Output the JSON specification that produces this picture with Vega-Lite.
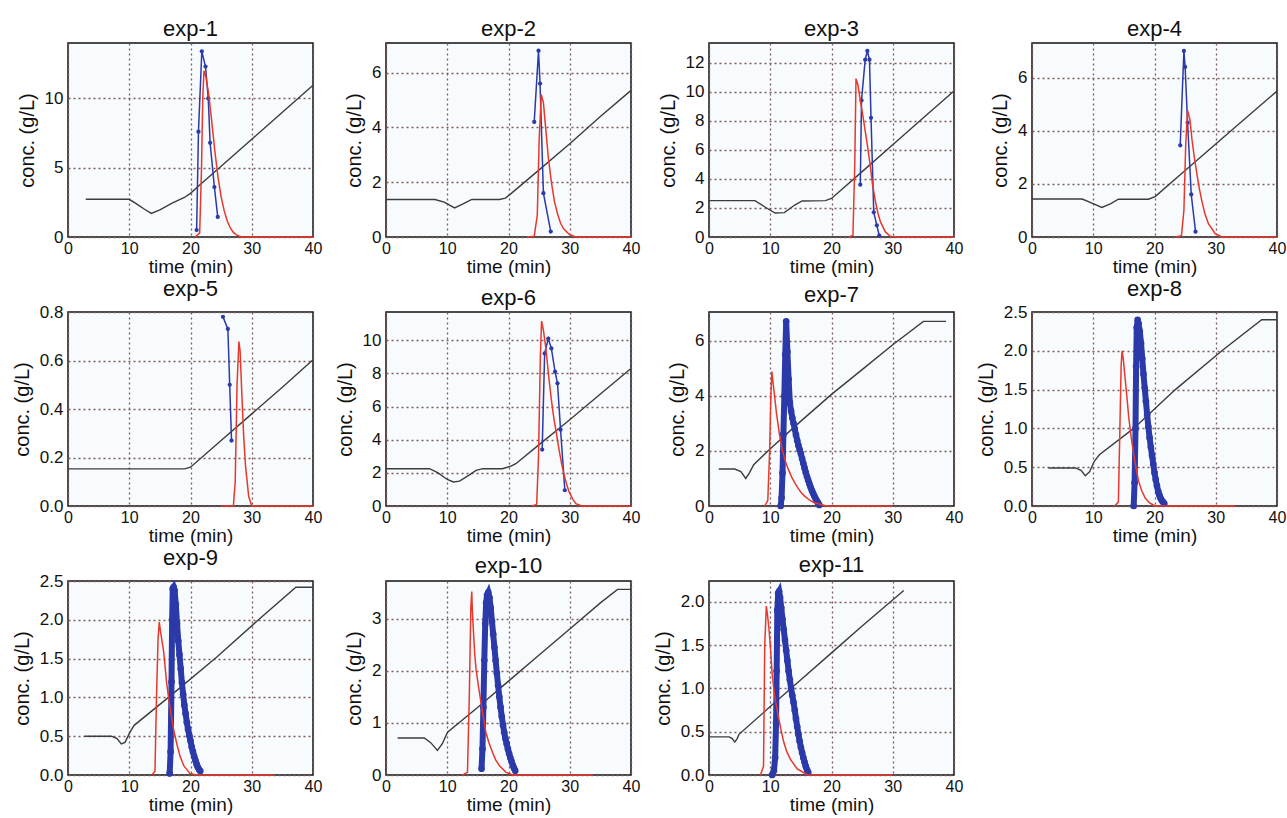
{
"$schema": "https://vega.github.io/schema/vega-lite/v6.json",
"background": "white",
"padding": {"left": 11, "top": 17, "right": 0, "bottom": 0},
"columns": 4,
"spacing": {"row": 0, "column": 11},
"datasets": {"d": [
{"e":1,"s":"g","t":2.9,"c":2.72},{"e":1,"s":"g","t":10,"c":2.72},{"e":1,"s":"g","t":11,"c":2.45},{"e":1,"s":"g","t":12.5,"c":2.0},{"e":1,"s":"g","t":13.6,"c":1.7},{"e":1,"s":"g","t":15,"c":1.95},{"e":1,"s":"g","t":17,"c":2.45},{"e":1,"s":"g","t":19,"c":2.85},{"e":1,"s":"g","t":20,"c":3.15},{"e":1,"s":"g","t":21.5,"c":3.75},{"e":1,"s":"g","t":25,"c":5.1},{"e":1,"s":"g","t":30,"c":7.05},{"e":1,"s":"g","t":35,"c":9.0},{"e":1,"s":"g","t":40,"c":10.95},
{"e":1,"s":"s","t":20.8,"c":0},{"e":1,"s":"s","t":21.5,"c":0.3},{"e":1,"s":"s","t":21.8,"c":5},{"e":1,"s":"s","t":22.0,"c":10},{"e":1,"s":"s","t":22.2,"c":12.0},{"e":1,"s":"s","t":22.5,"c":11.6},{"e":1,"s":"s","t":23,"c":10.2},{"e":1,"s":"s","t":23.5,"c":8.2},{"e":1,"s":"s","t":24,"c":6.1},{"e":1,"s":"s","t":24.5,"c":4.3},{"e":1,"s":"s","t":25,"c":2.9},{"e":1,"s":"s","t":25.5,"c":1.9},{"e":1,"s":"s","t":26,"c":1.15},{"e":1,"s":"s","t":26.5,"c":0.65},{"e":1,"s":"s","t":27,"c":0.33},{"e":1,"s":"s","t":27.5,"c":0.15},{"e":1,"s":"s","t":28,"c":0.05},{"e":1,"s":"s","t":28.6,"c":0},{"e":1,"s":"s","t":40,"c":0},
{"e":1,"s":"m","t":21.0,"c":0.5},{"e":1,"s":"m","t":21.3,"c":7.6},{"e":1,"s":"m","t":21.85,"c":13.4},{"e":1,"s":"m","t":22.45,"c":12.3},{"e":1,"s":"m","t":22.9,"c":10.0},{"e":1,"s":"m","t":23.2,"c":6.8},{"e":1,"s":"m","t":23.9,"c":3.6},{"e":1,"s":"m","t":24.45,"c":1.45},
{"e":2,"s":"g","t":0,"c":1.37},{"e":2,"s":"g","t":8,"c":1.37},{"e":2,"s":"g","t":9.5,"c":1.27},{"e":2,"s":"g","t":11.2,"c":1.06},{"e":2,"s":"g","t":12.5,"c":1.2},{"e":2,"s":"g","t":14,"c":1.37},{"e":2,"s":"g","t":18.5,"c":1.37},{"e":2,"s":"g","t":19.5,"c":1.42},{"e":2,"s":"g","t":20.5,"c":1.6},{"e":2,"s":"g","t":25,"c":2.45},{"e":2,"s":"g","t":30,"c":3.4},{"e":2,"s":"g","t":35,"c":4.4},{"e":2,"s":"g","t":40,"c":5.35},
{"e":2,"s":"s","t":23,"c":0},{"e":2,"s":"s","t":24.2,"c":0.03},{"e":2,"s":"s","t":24.7,"c":0.8},{"e":2,"s":"s","t":25.0,"c":3.5},{"e":2,"s":"s","t":25.35,"c":5.2},{"e":2,"s":"s","t":25.7,"c":4.9},{"e":2,"s":"s","t":26.1,"c":3.9},{"e":2,"s":"s","t":26.5,"c":2.9},{"e":2,"s":"s","t":27,"c":2.0},{"e":2,"s":"s","t":27.5,"c":1.3},{"e":2,"s":"s","t":28,"c":0.85},{"e":2,"s":"s","t":28.5,"c":0.5},{"e":2,"s":"s","t":29,"c":0.3},{"e":2,"s":"s","t":30,"c":0.08},{"e":2,"s":"s","t":31,"c":0},{"e":2,"s":"s","t":40,"c":0},
{"e":2,"s":"m","t":24.2,"c":4.2},{"e":2,"s":"m","t":24.9,"c":6.8},{"e":2,"s":"m","t":25.15,"c":5.6},{"e":2,"s":"m","t":25.7,"c":1.6},{"e":2,"s":"m","t":26.9,"c":0.2},
{"e":3,"s":"g","t":0,"c":2.5},{"e":3,"s":"g","t":7.5,"c":2.5},{"e":3,"s":"g","t":9,"c":2.1},{"e":3,"s":"g","t":10.8,"c":1.65},{"e":3,"s":"g","t":12.3,"c":1.68},{"e":3,"s":"g","t":14,"c":2.2},{"e":3,"s":"g","t":15.2,"c":2.48},{"e":3,"s":"g","t":19,"c":2.5},{"e":3,"s":"g","t":20,"c":2.65},{"e":3,"s":"g","t":25,"c":4.5},{"e":3,"s":"g","t":30,"c":6.35},{"e":3,"s":"g","t":35,"c":8.2},{"e":3,"s":"g","t":40,"c":10.05},
{"e":3,"s":"s","t":22.8,"c":0},{"e":3,"s":"s","t":23.5,"c":0.1},{"e":3,"s":"s","t":23.8,"c":5},{"e":3,"s":"s","t":24.0,"c":10.9},{"e":3,"s":"s","t":24.3,"c":10.5},{"e":3,"s":"s","t":24.7,"c":9.4},{"e":3,"s":"s","t":25.1,"c":8.4},{"e":3,"s":"s","t":25.5,"c":7.3},{"e":3,"s":"s","t":25.9,"c":6.2},{"e":3,"s":"s","t":26.3,"c":5.0},{"e":3,"s":"s","t":26.7,"c":3.6},{"e":3,"s":"s","t":27.2,"c":2.4},{"e":3,"s":"s","t":27.6,"c":1.6},{"e":3,"s":"s","t":28,"c":1.04},{"e":3,"s":"s","t":28.8,"c":0.35},{"e":3,"s":"s","t":29.6,"c":0.05},{"e":3,"s":"s","t":31,"c":0},{"e":3,"s":"s","t":40,"c":0},
{"e":3,"s":"m","t":24.7,"c":3.6},{"e":3,"s":"m","t":24.9,"c":9.4},{"e":3,"s":"m","t":25.5,"c":12.2},{"e":3,"s":"m","t":25.85,"c":12.8},{"e":3,"s":"m","t":26.2,"c":12.2},{"e":3,"s":"m","t":26.45,"c":8.2},{"e":3,"s":"m","t":26.9,"c":1.7},{"e":3,"s":"m","t":27.4,"c":0.8},{"e":3,"s":"m","t":27.8,"c":0.1},
{"e":4,"s":"g","t":0,"c":1.43},{"e":4,"s":"g","t":8.2,"c":1.43},{"e":4,"s":"g","t":9.5,"c":1.3},{"e":4,"s":"g","t":11.4,"c":1.11},{"e":4,"s":"g","t":12.8,"c":1.25},{"e":4,"s":"g","t":14.1,"c":1.42},{"e":4,"s":"g","t":19,"c":1.42},{"e":4,"s":"g","t":20.1,"c":1.52},{"e":4,"s":"g","t":25,"c":2.5},{"e":4,"s":"g","t":30,"c":3.5},{"e":4,"s":"g","t":35,"c":4.5},{"e":4,"s":"g","t":40,"c":5.49},
{"e":4,"s":"s","t":23.4,"c":0},{"e":4,"s":"s","t":24.4,"c":0.05},{"e":4,"s":"s","t":24.8,"c":1},{"e":4,"s":"s","t":25.1,"c":3.5},{"e":4,"s":"s","t":25.4,"c":4.76},{"e":4,"s":"s","t":25.8,"c":4.4},{"e":4,"s":"s","t":26.1,"c":3.7},{"e":4,"s":"s","t":26.5,"c":3.0},{"e":4,"s":"s","t":26.9,"c":2.4},{"e":4,"s":"s","t":27.3,"c":1.85},{"e":4,"s":"s","t":27.7,"c":1.39},{"e":4,"s":"s","t":28.2,"c":0.9},{"e":4,"s":"s","t":28.8,"c":0.5},{"e":4,"s":"s","t":29.9,"c":0.13},{"e":4,"s":"s","t":31,"c":0},{"e":4,"s":"s","t":40,"c":0},
{"e":4,"s":"m","t":24.2,"c":3.45},{"e":4,"s":"m","t":24.8,"c":7.0},{"e":4,"s":"m","t":25.0,"c":6.4},{"e":4,"s":"m","t":25.4,"c":4.3},{"e":4,"s":"m","t":26.0,"c":1.6},{"e":4,"s":"m","t":26.7,"c":0.2},
{"e":5,"s":"g","t":0,"c":0.153},{"e":5,"s":"g","t":19,"c":0.153},{"e":5,"s":"g","t":20,"c":0.16},{"e":5,"s":"g","t":25,"c":0.27},{"e":5,"s":"g","t":30,"c":0.38},{"e":5,"s":"g","t":35,"c":0.49},{"e":5,"s":"g","t":40,"c":0.603},
{"e":5,"s":"s","t":25,"c":0},{"e":5,"s":"s","t":27.0,"c":0},{"e":5,"s":"s","t":27.3,"c":0.1},{"e":5,"s":"s","t":27.6,"c":0.5},{"e":5,"s":"s","t":27.9,"c":0.678},{"e":5,"s":"s","t":28.1,"c":0.64},{"e":5,"s":"s","t":28.4,"c":0.45},{"e":5,"s":"s","t":28.7,"c":0.28},{"e":5,"s":"s","t":29,"c":0.16},{"e":5,"s":"s","t":29.5,"c":0.04},{"e":5,"s":"s","t":30,"c":0},{"e":5,"s":"s","t":40,"c":0},
{"e":5,"s":"m","t":25.3,"c":0.78},{"e":5,"s":"m","t":26.1,"c":0.73},{"e":5,"s":"m","t":26.4,"c":0.5},{"e":5,"s":"m","t":26.7,"c":0.27},
{"e":6,"s":"g","t":0,"c":2.25},{"e":6,"s":"g","t":7.1,"c":2.25},{"e":6,"s":"g","t":8.5,"c":2.0},{"e":6,"s":"g","t":10,"c":1.6},{"e":6,"s":"g","t":11,"c":1.45},{"e":6,"s":"g","t":12,"c":1.5},{"e":6,"s":"g","t":13.5,"c":1.85},{"e":6,"s":"g","t":14.7,"c":2.15},{"e":6,"s":"g","t":15.8,"c":2.25},{"e":6,"s":"g","t":19,"c":2.25},{"e":6,"s":"g","t":20.4,"c":2.4},{"e":6,"s":"g","t":21.2,"c":2.55},{"e":6,"s":"g","t":25,"c":3.7},{"e":6,"s":"g","t":30,"c":5.2},{"e":6,"s":"g","t":35,"c":6.75},{"e":6,"s":"g","t":40,"c":8.29},
{"e":6,"s":"s","t":23.9,"c":0},{"e":6,"s":"s","t":24.6,"c":0.1},{"e":6,"s":"s","t":24.9,"c":3},{"e":6,"s":"s","t":25.2,"c":9},{"e":6,"s":"s","t":25.4,"c":11.15},{"e":6,"s":"s","t":25.7,"c":10.6},{"e":6,"s":"s","t":26.1,"c":9.5},{"e":6,"s":"s","t":26.6,"c":7.7},{"e":6,"s":"s","t":27,"c":6.4},{"e":6,"s":"s","t":27.4,"c":5.3},{"e":6,"s":"s","t":27.9,"c":4.2},{"e":6,"s":"s","t":28.3,"c":3.3},{"e":6,"s":"s","t":28.7,"c":2.5},{"e":6,"s":"s","t":29.1,"c":1.85},{"e":6,"s":"s","t":29.5,"c":1.3},{"e":6,"s":"s","t":29.9,"c":0.85},{"e":6,"s":"s","t":30.5,"c":0.4},{"e":6,"s":"s","t":31,"c":0.14},{"e":6,"s":"s","t":32,"c":0},{"e":6,"s":"s","t":40,"c":0},
{"e":6,"s":"m","t":25.5,"c":3.4},{"e":6,"s":"m","t":25.9,"c":9.2},{"e":6,"s":"m","t":26.5,"c":10.1},{"e":6,"s":"m","t":27.0,"c":9.5},{"e":6,"s":"m","t":27.6,"c":8.1},{"e":6,"s":"m","t":28.0,"c":7.4},{"e":6,"s":"m","t":28.5,"c":4.6},{"e":6,"s":"m","t":29.2,"c":0.95},
{"e":7,"s":"g","t":1.6,"c":1.34},{"e":7,"s":"g","t":4.2,"c":1.34},{"e":7,"s":"g","t":5.2,"c":1.25},{"e":7,"s":"g","t":6.0,"c":1.0},{"e":7,"s":"g","t":6.6,"c":1.2},{"e":7,"s":"g","t":7.3,"c":1.5},{"e":7,"s":"g","t":10,"c":2.08},{"e":7,"s":"g","t":15,"c":3.08},{"e":7,"s":"g","t":20,"c":4.05},{"e":7,"s":"g","t":25,"c":4.95},{"e":7,"s":"g","t":30,"c":5.85},{"e":7,"s":"g","t":35,"c":6.7},{"e":7,"s":"g","t":38.7,"c":6.7},
{"e":7,"s":"s","t":9.1,"c":0},{"e":7,"s":"s","t":9.6,"c":0.2},{"e":7,"s":"s","t":9.9,"c":2},{"e":7,"s":"s","t":10.1,"c":4},{"e":7,"s":"s","t":10.27,"c":4.88},{"e":7,"s":"s","t":10.45,"c":4.5},{"e":7,"s":"s","t":10.65,"c":4.1},{"e":7,"s":"s","t":11.0,"c":3.4},{"e":7,"s":"s","t":11.5,"c":2.6},{"e":7,"s":"s","t":12,"c":2.0},{"e":7,"s":"s","t":12.5,"c":1.6},{"e":7,"s":"s","t":13,"c":1.3},{"e":7,"s":"s","t":13.5,"c":1.05},{"e":7,"s":"s","t":14,"c":0.85},{"e":7,"s":"s","t":14.5,"c":0.66},{"e":7,"s":"s","t":15,"c":0.5},{"e":7,"s":"s","t":15.6,"c":0.36},{"e":7,"s":"s","t":16.5,"c":0.2},{"e":7,"s":"s","t":17.2,"c":0.12},{"e":7,"s":"s","t":18.9,"c":0.02},{"e":7,"s":"s","t":20,"c":0},{"e":7,"s":"s","t":30,"c":0},
{"e":7,"s":"m","t":11.7,"c":0},{"e":7,"s":"m","t":11.85,"c":0.3},{"e":7,"s":"m","t":12.0,"c":1.2},{"e":7,"s":"m","t":12.15,"c":2.6},{"e":7,"s":"m","t":12.3,"c":4.0},{"e":7,"s":"m","t":12.45,"c":5.5},{"e":7,"s":"m","t":12.6,"c":6.7},{"e":7,"s":"m","t":12.8,"c":5.6},{"e":7,"s":"m","t":13.0,"c":4.6},{"e":7,"s":"m","t":13.2,"c":3.75},{"e":7,"s":"m","t":13.4,"c":3.45},{"e":7,"s":"m","t":13.6,"c":3.2},{"e":7,"s":"m","t":13.8,"c":3.0},{"e":7,"s":"m","t":14.0,"c":2.8},{"e":7,"s":"m","t":14.2,"c":2.58},{"e":7,"s":"m","t":14.4,"c":2.38},{"e":7,"s":"m","t":14.6,"c":2.2},{"e":7,"s":"m","t":14.8,"c":2.05},{"e":7,"s":"m","t":15.0,"c":1.9},{"e":7,"s":"m","t":15.2,"c":1.72},{"e":7,"s":"m","t":15.4,"c":1.55},{"e":7,"s":"m","t":15.6,"c":1.38},{"e":7,"s":"m","t":15.8,"c":1.22},{"e":7,"s":"m","t":16.0,"c":1.07},{"e":7,"s":"m","t":16.2,"c":0.93},{"e":7,"s":"m","t":16.4,"c":0.8},{"e":7,"s":"m","t":16.6,"c":0.68},{"e":7,"s":"m","t":16.8,"c":0.56},{"e":7,"s":"m","t":17.0,"c":0.46},{"e":7,"s":"m","t":17.2,"c":0.36},{"e":7,"s":"m","t":17.4,"c":0.27},{"e":7,"s":"m","t":17.6,"c":0.19},{"e":7,"s":"m","t":17.8,"c":0.11},{"e":7,"s":"m","t":18.0,"c":0.04},
{"e":8,"s":"g","t":2.7,"c":0.49},{"e":8,"s":"g","t":7.1,"c":0.49},{"e":8,"s":"g","t":8.0,"c":0.46},{"e":8,"s":"g","t":8.7,"c":0.39},{"e":8,"s":"g","t":9.4,"c":0.44},{"e":8,"s":"g","t":10.2,"c":0.58},{"e":8,"s":"g","t":11,"c":0.66},{"e":8,"s":"g","t":16.6,"c":1.0},{"e":8,"s":"g","t":23.4,"c":1.5},{"e":8,"s":"g","t":31,"c":2.0},{"e":8,"s":"g","t":37.5,"c":2.4},{"e":8,"s":"g","t":40,"c":2.4},
{"e":8,"s":"s","t":13.5,"c":0},{"e":8,"s":"s","t":14.1,"c":0.05},{"e":8,"s":"s","t":14.35,"c":1},{"e":8,"s":"s","t":14.55,"c":1.8},{"e":8,"s":"s","t":14.7,"c":2.0},{"e":8,"s":"s","t":14.9,"c":1.9},{"e":8,"s":"s","t":15.2,"c":1.65},{"e":8,"s":"s","t":15.5,"c":1.4},{"e":8,"s":"s","t":15.8,"c":1.14},{"e":8,"s":"s","t":16.2,"c":0.88},{"e":8,"s":"s","t":16.6,"c":0.67},{"e":8,"s":"s","t":17.0,"c":0.48},{"e":8,"s":"s","t":17.4,"c":0.32},{"e":8,"s":"s","t":17.9,"c":0.2},{"e":8,"s":"s","t":18.5,"c":0.1},{"e":8,"s":"s","t":19.2,"c":0.04},{"e":8,"s":"s","t":20.1,"c":0},{"e":8,"s":"s","t":33.2,"c":0},
{"e":8,"s":"m","t":16.6,"c":0},{"e":8,"s":"m","t":16.75,"c":0.3},{"e":8,"s":"m","t":16.9,"c":1.0},{"e":8,"s":"m","t":17.0,"c":1.8},{"e":8,"s":"m","t":17.1,"c":2.3},{"e":8,"s":"m","t":17.25,"c":2.4},{"e":8,"s":"m","t":17.4,"c":2.35},{"e":8,"s":"m","t":17.6,"c":2.25},{"e":8,"s":"m","t":17.8,"c":2.1},{"e":8,"s":"m","t":18.0,"c":1.9},{"e":8,"s":"m","t":18.2,"c":1.7},{"e":8,"s":"m","t":18.4,"c":1.52},{"e":8,"s":"m","t":18.6,"c":1.35},{"e":8,"s":"m","t":18.8,"c":1.18},{"e":8,"s":"m","t":19.0,"c":1.02},{"e":8,"s":"m","t":19.2,"c":0.88},{"e":8,"s":"m","t":19.4,"c":0.76},{"e":8,"s":"m","t":19.6,"c":0.65},{"e":8,"s":"m","t":19.8,"c":0.54},{"e":8,"s":"m","t":20.0,"c":0.43},{"e":8,"s":"m","t":20.2,"c":0.34},{"e":8,"s":"m","t":20.4,"c":0.26},{"e":8,"s":"m","t":20.6,"c":0.19},{"e":8,"s":"m","t":20.8,"c":0.14},{"e":8,"s":"m","t":21.0,"c":0.1},{"e":8,"s":"m","t":21.2,"c":0.07},{"e":8,"s":"m","t":21.4,"c":0.05},{"e":8,"s":"m","t":21.6,"c":0.03},
{"e":9,"s":"g","t":2.7,"c":0.5},{"e":9,"s":"g","t":7.1,"c":0.5},{"e":9,"s":"g","t":8.0,"c":0.47},{"e":9,"s":"g","t":8.7,"c":0.4},{"e":9,"s":"g","t":9.3,"c":0.42},{"e":9,"s":"g","t":10.1,"c":0.55},{"e":9,"s":"g","t":10.8,"c":0.64},{"e":9,"s":"g","t":16.7,"c":1.02},{"e":9,"s":"g","t":24.3,"c":1.52},{"e":9,"s":"g","t":31.1,"c":2.0},{"e":9,"s":"g","t":37.2,"c":2.42},{"e":9,"s":"g","t":40,"c":2.42},
{"e":9,"s":"s","t":13.7,"c":0},{"e":9,"s":"s","t":14.2,"c":0.05},{"e":9,"s":"s","t":14.45,"c":1.0},{"e":9,"s":"s","t":14.7,"c":1.75},{"e":9,"s":"s","t":14.9,"c":1.97},{"e":9,"s":"s","t":15.1,"c":1.85},{"e":9,"s":"s","t":15.4,"c":1.7},{"e":9,"s":"s","t":15.6,"c":1.6},{"e":9,"s":"s","t":15.85,"c":1.4},{"e":9,"s":"s","t":16.1,"c":1.19},{"e":9,"s":"s","t":16.5,"c":0.95},{"e":9,"s":"s","t":16.9,"c":0.75},{"e":9,"s":"s","t":17.3,"c":0.56},{"e":9,"s":"s","t":17.8,"c":0.39},{"e":9,"s":"s","t":18.3,"c":0.24},{"e":9,"s":"s","t":18.9,"c":0.12},{"e":9,"s":"s","t":19.9,"c":0.02},{"e":9,"s":"s","t":21,"c":0},{"e":9,"s":"s","t":33.6,"c":0},
{"e":9,"s":"m","t":16.6,"c":0.02},{"e":9,"s":"m","t":16.75,"c":0.3},{"e":9,"s":"m","t":16.9,"c":1.2},{"e":9,"s":"m","t":17.0,"c":2.0},{"e":9,"s":"m","t":17.1,"c":2.4},{"e":9,"s":"m","t":17.25,"c":2.42},{"e":9,"s":"m","t":17.4,"c":2.38},{"e":9,"s":"m","t":17.6,"c":2.2},{"e":9,"s":"m","t":17.8,"c":1.95},{"e":9,"s":"m","t":18.0,"c":1.73},{"e":9,"s":"m","t":18.2,"c":1.55},{"e":9,"s":"m","t":18.4,"c":1.37},{"e":9,"s":"m","t":18.6,"c":1.19},{"e":9,"s":"m","t":18.8,"c":1.04},{"e":9,"s":"m","t":19.0,"c":0.9},{"e":9,"s":"m","t":19.2,"c":0.79},{"e":9,"s":"m","t":19.4,"c":0.68},{"e":9,"s":"m","t":19.6,"c":0.59},{"e":9,"s":"m","t":19.8,"c":0.51},{"e":9,"s":"m","t":20.0,"c":0.44},{"e":9,"s":"m","t":20.2,"c":0.36},{"e":9,"s":"m","t":20.4,"c":0.3},{"e":9,"s":"m","t":20.6,"c":0.24},{"e":9,"s":"m","t":20.8,"c":0.19},{"e":9,"s":"m","t":21.0,"c":0.14},{"e":9,"s":"m","t":21.2,"c":0.1},{"e":9,"s":"m","t":21.4,"c":0.07},{"e":9,"s":"m","t":21.6,"c":0.05},
{"e":10,"s":"g","t":1.9,"c":0.71},{"e":10,"s":"g","t":6.25,"c":0.71},{"e":10,"s":"g","t":7.3,"c":0.62},{"e":10,"s":"g","t":8.4,"c":0.47},{"e":10,"s":"g","t":9.2,"c":0.6},{"e":10,"s":"g","t":10.05,"c":0.82},{"e":10,"s":"g","t":15,"c":1.3},{"e":10,"s":"g","t":20,"c":1.8},{"e":10,"s":"g","t":25,"c":2.3},{"e":10,"s":"g","t":30,"c":2.8},{"e":10,"s":"g","t":35,"c":3.3},{"e":10,"s":"g","t":37.8,"c":3.56},{"e":10,"s":"g","t":40,"c":3.56},
{"e":10,"s":"s","t":12.5,"c":0},{"e":10,"s":"s","t":13.3,"c":0.05},{"e":10,"s":"s","t":13.6,"c":1.5},{"e":10,"s":"s","t":13.85,"c":3.2},{"e":10,"s":"s","t":14.0,"c":3.52},{"e":10,"s":"s","t":14.1,"c":3.15},{"e":10,"s":"s","t":14.3,"c":2.7},{"e":10,"s":"s","t":14.5,"c":2.3},{"e":10,"s":"s","t":14.7,"c":2.03},{"e":10,"s":"s","t":15.1,"c":1.7},{"e":10,"s":"s","t":15.5,"c":1.39},{"e":10,"s":"s","t":15.9,"c":1.1},{"e":10,"s":"s","t":16.3,"c":0.82},{"e":10,"s":"s","t":16.8,"c":0.62},{"e":10,"s":"s","t":17.4,"c":0.43},{"e":10,"s":"s","t":17.9,"c":0.29},{"e":10,"s":"s","t":18.5,"c":0.18},{"e":10,"s":"s","t":19.6,"c":0.05},{"e":10,"s":"s","t":20.7,"c":0},{"e":10,"s":"s","t":33.7,"c":0},
{"e":10,"s":"m","t":15.6,"c":0.12},{"e":10,"s":"m","t":15.75,"c":0.5},{"e":10,"s":"m","t":15.9,"c":1.3},{"e":10,"s":"m","t":16.05,"c":2.2},{"e":10,"s":"m","t":16.2,"c":2.9},{"e":10,"s":"m","t":16.35,"c":3.3},{"e":10,"s":"m","t":16.5,"c":3.45},{"e":10,"s":"m","t":16.7,"c":3.5},{"e":10,"s":"m","t":16.9,"c":3.4},{"e":10,"s":"m","t":17.1,"c":3.2},{"e":10,"s":"m","t":17.3,"c":2.95},{"e":10,"s":"m","t":17.5,"c":2.7},{"e":10,"s":"m","t":17.7,"c":2.45},{"e":10,"s":"m","t":17.9,"c":2.2},{"e":10,"s":"m","t":18.1,"c":1.95},{"e":10,"s":"m","t":18.3,"c":1.72},{"e":10,"s":"m","t":18.5,"c":1.5},{"e":10,"s":"m","t":18.7,"c":1.3},{"e":10,"s":"m","t":18.9,"c":1.12},{"e":10,"s":"m","t":19.1,"c":0.96},{"e":10,"s":"m","t":19.3,"c":0.82},{"e":10,"s":"m","t":19.5,"c":0.7},{"e":10,"s":"m","t":19.7,"c":0.6},{"e":10,"s":"m","t":19.9,"c":0.5},{"e":10,"s":"m","t":20.1,"c":0.41},{"e":10,"s":"m","t":20.3,"c":0.33},{"e":10,"s":"m","t":20.5,"c":0.26},{"e":10,"s":"m","t":20.7,"c":0.19},{"e":10,"s":"m","t":20.9,"c":0.13},{"e":10,"s":"m","t":21.1,"c":0.08},
{"e":11,"s":"g","t":0,"c":0.44},{"e":11,"s":"g","t":3.3,"c":0.44},{"e":11,"s":"g","t":3.8,"c":0.42},{"e":11,"s":"g","t":4.2,"c":0.38},{"e":11,"s":"g","t":4.6,"c":0.42},{"e":11,"s":"g","t":4.9,"c":0.47},{"e":11,"s":"g","t":10,"c":0.79},{"e":11,"s":"g","t":15,"c":1.1},{"e":11,"s":"g","t":20,"c":1.41},{"e":11,"s":"g","t":25,"c":1.72},{"e":11,"s":"g","t":31.8,"c":2.13},
{"e":11,"s":"s","t":8.4,"c":0},{"e":11,"s":"s","t":8.9,"c":0.1},{"e":11,"s":"s","t":9.1,"c":1.5},{"e":11,"s":"s","t":9.36,"c":1.95},{"e":11,"s":"s","t":9.55,"c":1.85},{"e":11,"s":"s","t":9.8,"c":1.68},{"e":11,"s":"s","t":10.05,"c":1.45},{"e":11,"s":"s","t":10.3,"c":1.18},{"e":11,"s":"s","t":10.7,"c":0.92},{"e":11,"s":"s","t":11.2,"c":0.72},{"e":11,"s":"s","t":11.7,"c":0.54},{"e":11,"s":"s","t":12.2,"c":0.38},{"e":11,"s":"s","t":12.7,"c":0.27},{"e":11,"s":"s","t":13.3,"c":0.18},{"e":11,"s":"s","t":14.4,"c":0.07},{"e":11,"s":"s","t":16.1,"c":0},{"e":11,"s":"s","t":30,"c":0},
{"e":11,"s":"m","t":10.3,"c":0.0},{"e":11,"s":"m","t":10.6,"c":0.05},{"e":11,"s":"m","t":10.8,"c":0.2},{"e":11,"s":"m","t":10.95,"c":0.6},{"e":11,"s":"m","t":11.05,"c":1.2},{"e":11,"s":"m","t":11.15,"c":1.9},{"e":11,"s":"m","t":11.3,"c":2.1},{"e":11,"s":"m","t":11.45,"c":2.12},{"e":11,"s":"m","t":11.6,"c":2.05},{"e":11,"s":"m","t":11.8,"c":1.93},{"e":11,"s":"m","t":12.0,"c":1.8},{"e":11,"s":"m","t":12.2,"c":1.68},{"e":11,"s":"m","t":12.4,"c":1.56},{"e":11,"s":"m","t":12.6,"c":1.44},{"e":11,"s":"m","t":12.8,"c":1.32},{"e":11,"s":"m","t":13.0,"c":1.2},{"e":11,"s":"m","t":13.2,"c":1.1},{"e":11,"s":"m","t":13.4,"c":1.0},{"e":11,"s":"m","t":13.6,"c":0.92},{"e":11,"s":"m","t":13.8,"c":0.84},{"e":11,"s":"m","t":14.0,"c":0.75},{"e":11,"s":"m","t":14.2,"c":0.65},{"e":11,"s":"m","t":14.4,"c":0.56},{"e":11,"s":"m","t":14.6,"c":0.47},{"e":11,"s":"m","t":14.8,"c":0.39},{"e":11,"s":"m","t":15.0,"c":0.32},{"e":11,"s":"m","t":15.2,"c":0.26},{"e":11,"s":"m","t":15.4,"c":0.2},{"e":11,"s":"m","t":15.6,"c":0.15},{"e":11,"s":"m","t":15.8,"c":0.1},{"e":11,"s":"m","t":16.0,"c":0.06},{"e":11,"s":"m","t":16.2,"c":0.03}
]},
"data": {"name": "d"},
"concat": [
{"title":"exp-1","width":245,"height":194,"transform":[{"filter":"datum.e == 1"}],
 "encoding":{"x":{"field":"t","type":"quantitative","scale":{"domain":[0,40],"nice":false},"axis":{"values":[0,10,20,30,40],"title":"time (min)"}},
  "y":{"field":"c","type":"quantitative","scale":{"domain":[0,14],"nice":false},"axis":{"values":[0,5,10],"title":"conc. (g/L)"}}},
 "layer":[
  {"transform":[{"filter":"datum.s == 'g'"}],"mark":{"type":"line","color":"#3c3c3c","strokeWidth":1.4},"encoding":{}},
  {"transform":[{"filter":"datum.s == 'm'"}],"mark":{"type":"line","color":"#2b3aa8","strokeWidth":1.5,"point":{"filled":true,"size":18,"color":"#2b3aa8"}},"encoding":{}},
  {"transform":[{"filter":"datum.s == 's'"}],"mark":{"type":"line","color":"#e8382b","strokeWidth":1.5},"encoding":{}}]},
{"title":"exp-2","width":245,"height":194,"transform":[{"filter":"datum.e == 2"}],
 "encoding":{"x":{"field":"t","type":"quantitative","scale":{"domain":[0,40],"nice":false},"axis":{"values":[0,10,20,30,40],"title":"time (min)"}},
  "y":{"field":"c","type":"quantitative","scale":{"domain":[0,7.08],"nice":false},"axis":{"values":[0,2,4,6],"title":"conc. (g/L)"}}},
 "layer":[
  {"transform":[{"filter":"datum.s == 'g'"}],"mark":{"type":"line","color":"#3c3c3c","strokeWidth":1.4},"encoding":{}},
  {"transform":[{"filter":"datum.s == 'm'"}],"mark":{"type":"line","color":"#2b3aa8","strokeWidth":1.5,"point":{"filled":true,"size":18,"color":"#2b3aa8"}},"encoding":{}},
  {"transform":[{"filter":"datum.s == 's'"}],"mark":{"type":"line","color":"#e8382b","strokeWidth":1.5},"encoding":{}}]},
{"title":"exp-3","width":245,"height":194,"transform":[{"filter":"datum.e == 3"}],
 "encoding":{"x":{"field":"t","type":"quantitative","scale":{"domain":[0,40],"nice":false},"axis":{"values":[0,10,20,30,40],"title":"time (min)"}},
  "y":{"field":"c","type":"quantitative","scale":{"domain":[0,13.35],"nice":false},"axis":{"values":[0,2,4,6,8,10,12],"title":"conc. (g/L)"}}},
 "layer":[
  {"transform":[{"filter":"datum.s == 'g'"}],"mark":{"type":"line","color":"#3c3c3c","strokeWidth":1.4},"encoding":{}},
  {"transform":[{"filter":"datum.s == 'm'"}],"mark":{"type":"line","color":"#2b3aa8","strokeWidth":1.5,"point":{"filled":true,"size":18,"color":"#2b3aa8"}},"encoding":{}},
  {"transform":[{"filter":"datum.s == 's'"}],"mark":{"type":"line","color":"#e8382b","strokeWidth":1.5},"encoding":{}}]},
{"title":"exp-4","width":245,"height":194,"transform":[{"filter":"datum.e == 4"}],
 "encoding":{"x":{"field":"t","type":"quantitative","scale":{"domain":[0,40],"nice":false},"axis":{"values":[0,10,20,30,40],"title":"time (min)"}},
  "y":{"field":"c","type":"quantitative","scale":{"domain":[0,7.3],"nice":false},"axis":{"values":[0,2,4,6],"title":"conc. (g/L)"}}},
 "layer":[
  {"transform":[{"filter":"datum.s == 'g'"}],"mark":{"type":"line","color":"#3c3c3c","strokeWidth":1.4},"encoding":{}},
  {"transform":[{"filter":"datum.s == 'm'"}],"mark":{"type":"line","color":"#2b3aa8","strokeWidth":1.5,"point":{"filled":true,"size":18,"color":"#2b3aa8"}},"encoding":{}},
  {"transform":[{"filter":"datum.s == 's'"}],"mark":{"type":"line","color":"#e8382b","strokeWidth":1.5},"encoding":{}}]},
{"title":"exp-5","width":245,"height":194,"transform":[{"filter":"datum.e == 5"}],
 "encoding":{"x":{"field":"t","type":"quantitative","scale":{"domain":[0,40],"nice":false},"axis":{"values":[0,10,20,30,40],"title":"time (min)"}},
  "y":{"field":"c","type":"quantitative","scale":{"domain":[0,0.8],"nice":false},"axis":{"values":[0,0.2,0.4,0.6,0.8],"format":".1f","title":"conc. (g/L)"}}},
 "layer":[
  {"transform":[{"filter":"datum.s == 'g'"}],"mark":{"type":"line","color":"#3c3c3c","strokeWidth":1.4},"encoding":{}},
  {"transform":[{"filter":"datum.s == 'm'"}],"mark":{"type":"line","color":"#2b3aa8","strokeWidth":1.5,"point":{"filled":true,"size":18,"color":"#2b3aa8"}},"encoding":{}},
  {"transform":[{"filter":"datum.s == 's'"}],"mark":{"type":"line","color":"#e8382b","strokeWidth":1.5},"encoding":{}}]},
{"title":"exp-6","width":245,"height":194,"transform":[{"filter":"datum.e == 6"}],
 "encoding":{"x":{"field":"t","type":"quantitative","scale":{"domain":[0,40],"nice":false},"axis":{"values":[0,10,20,30,40],"title":"time (min)"}},
  "y":{"field":"c","type":"quantitative","scale":{"domain":[0,11.7],"nice":false},"axis":{"values":[0,2,4,6,8,10],"title":"conc. (g/L)"}}},
 "layer":[
  {"transform":[{"filter":"datum.s == 'g'"}],"mark":{"type":"line","color":"#3c3c3c","strokeWidth":1.4},"encoding":{}},
  {"transform":[{"filter":"datum.s == 'm'"}],"mark":{"type":"line","color":"#2b3aa8","strokeWidth":1.5,"point":{"filled":true,"size":18,"color":"#2b3aa8"}},"encoding":{}},
  {"transform":[{"filter":"datum.s == 's'"}],"mark":{"type":"line","color":"#e8382b","strokeWidth":1.5},"encoding":{}}]},
{"title":"exp-7","width":245,"height":194,"transform":[{"filter":"datum.e == 7"}],
 "encoding":{"x":{"field":"t","type":"quantitative","scale":{"domain":[0,40],"nice":false},"axis":{"values":[0,10,20,30,40],"title":"time (min)"}},
  "y":{"field":"c","type":"quantitative","scale":{"domain":[0,7.04],"nice":false},"axis":{"values":[0,2,4,6],"title":"conc. (g/L)"}}},
 "layer":[
  {"transform":[{"filter":"datum.s == 'g'"}],"mark":{"type":"line","color":"#3c3c3c","strokeWidth":1.4},"encoding":{}},
  {"transform":[{"filter":"datum.s == 'm'"}],"mark":{"type":"line","color":"#2b3aa8","strokeWidth":6,"point":{"filled":true,"size":45,"color":"#2b3aa8"}},"encoding":{}},
  {"transform":[{"filter":"datum.s == 's'"}],"mark":{"type":"line","color":"#e8382b","strokeWidth":1.5},"encoding":{}}]},
{"title":"exp-8","width":245,"height":194,"transform":[{"filter":"datum.e == 8"}],
 "encoding":{"x":{"field":"t","type":"quantitative","scale":{"domain":[0,40],"nice":false},"axis":{"values":[0,10,20,30,40],"title":"time (min)"}},
  "y":{"field":"c","type":"quantitative","scale":{"domain":[0,2.5],"nice":false},"axis":{"values":[0,0.5,1,1.5,2,2.5],"format":".1f","title":"conc. (g/L)"}}},
 "layer":[
  {"transform":[{"filter":"datum.s == 'g'"}],"mark":{"type":"line","color":"#3c3c3c","strokeWidth":1.4},"encoding":{}},
  {"transform":[{"filter":"datum.s == 'm'"}],"mark":{"type":"line","color":"#2b3aa8","strokeWidth":6,"point":{"filled":true,"size":45,"color":"#2b3aa8"}},"encoding":{}},
  {"transform":[{"filter":"datum.s == 's'"}],"mark":{"type":"line","color":"#e8382b","strokeWidth":1.5},"encoding":{}}]},
{"title":"exp-9","width":245,"height":194,"transform":[{"filter":"datum.e == 9"}],
 "encoding":{"x":{"field":"t","type":"quantitative","scale":{"domain":[0,40],"nice":false},"axis":{"values":[0,10,20,30,40],"title":"time (min)"}},
  "y":{"field":"c","type":"quantitative","scale":{"domain":[0,2.5],"nice":false},"axis":{"values":[0,0.5,1,1.5,2,2.5],"format":".1f","title":"conc. (g/L)"}}},
 "layer":[
  {"transform":[{"filter":"datum.s == 'g'"}],"mark":{"type":"line","color":"#3c3c3c","strokeWidth":1.4},"encoding":{}},
  {"transform":[{"filter":"datum.s == 'm'"}],"mark":{"type":"line","color":"#2b3aa8","strokeWidth":6,"point":{"filled":true,"size":45,"color":"#2b3aa8"}},"encoding":{}},
  {"transform":[{"filter":"datum.s == 's'"}],"mark":{"type":"line","color":"#e8382b","strokeWidth":1.5},"encoding":{}}]},
{"title":"exp-10","width":245,"height":194,"transform":[{"filter":"datum.e == 10"}],
 "encoding":{"x":{"field":"t","type":"quantitative","scale":{"domain":[0,40],"nice":false},"axis":{"values":[0,10,20,30,40],"title":"time (min)"}},
  "y":{"field":"c","type":"quantitative","scale":{"domain":[0,3.72],"nice":false},"axis":{"values":[0,1,2,3],"title":"conc. (g/L)"}}},
 "layer":[
  {"transform":[{"filter":"datum.s == 'g'"}],"mark":{"type":"line","color":"#3c3c3c","strokeWidth":1.4},"encoding":{}},
  {"transform":[{"filter":"datum.s == 'm'"}],"mark":{"type":"line","color":"#2b3aa8","strokeWidth":6,"point":{"filled":true,"size":45,"color":"#2b3aa8"}},"encoding":{}},
  {"transform":[{"filter":"datum.s == 's'"}],"mark":{"type":"line","color":"#e8382b","strokeWidth":1.5},"encoding":{}}]},
{"title":"exp-11","width":245,"height":194,"transform":[{"filter":"datum.e == 11"}],
 "encoding":{"x":{"field":"t","type":"quantitative","scale":{"domain":[0,40],"nice":false},"axis":{"values":[0,10,20,30,40],"title":"time (min)"}},
  "y":{"field":"c","type":"quantitative","scale":{"domain":[0,2.24],"nice":false},"axis":{"values":[0,0.5,1,1.5,2],"format":".1f","title":"conc. (g/L)"}}},
 "layer":[
  {"transform":[{"filter":"datum.s == 'g'"}],"mark":{"type":"line","color":"#3c3c3c","strokeWidth":1.4},"encoding":{}},
  {"transform":[{"filter":"datum.s == 'm'"}],"mark":{"type":"line","color":"#2b3aa8","strokeWidth":6,"point":{"filled":true,"size":45,"color":"#2b3aa8"}},"encoding":{}},
  {"transform":[{"filter":"datum.s == 's'"}],"mark":{"type":"line","color":"#e8382b","strokeWidth":1.5},"encoding":{}}]}
],
"config": {
 "font": "Liberation Sans",
 "view": {"stroke": "#111", "strokeWidth": 1.5, "fill": "#f8fbfd"},
 "axis": {"labelFontSize": 17, "titleFontSize": 20, "titleFontWeight": "normal", "labelColor": "#111", "titleColor": "#111", "ticks": false, "domain": false, "grid": true, "gridColor": "#7d5b5b", "gridDash": [2, 3], "gridWidth": 1.3, "gridOpacity": 1, "labelFlush": false, "labelOverlap": false, "labelPadding": 5, "titlePadding": 2},
 "axisX": {"labelFontSize": 16, "labelPadding": 3, "titlePadding": 1, "titleFontSize": 19},
 "axisY": {"titlePadding": 7},
 "title": {"fontSize": 22, "fontWeight": "normal", "color": "#111", "offset": 2}
}
}
